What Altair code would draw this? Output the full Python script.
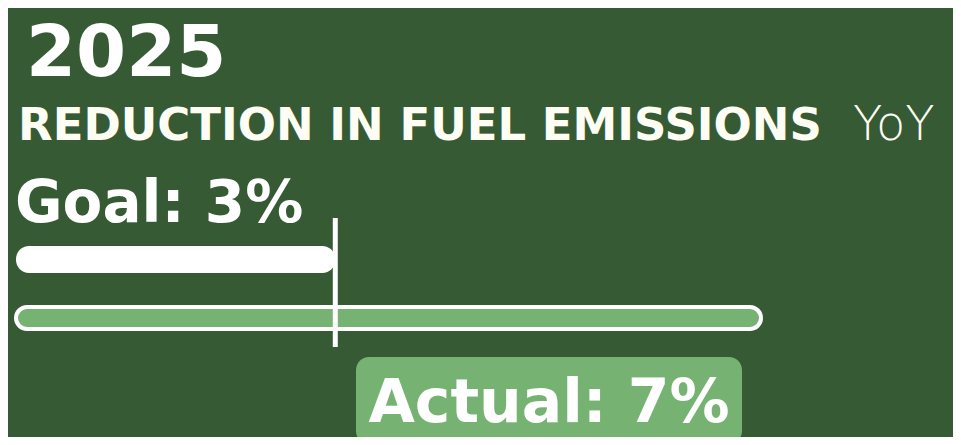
import altair as alt
import pandas as pd

# ---- data ----
year = ["2025"]
metric = ["REDUCTION IN FUEL EMISSIONS"]
period = ["YoY"]
goal_pct = [3]
actual_pct = [7]
axis_max = [7]

BG = "#365a34"
GREEN = "#76b372"
WHITE = "#ffffff"
FONT = "DejaVu Sans"

goal_df = pd.DataFrame({"start": [0], "value": goal_pct})
actual_df = pd.DataFrame({"start": [0], "value": actual_pct})

xscale = alt.Scale(domain=[0, axis_max[0]], range=[8, 753])
X = lambda f: alt.X(f, type="quantitative", scale=xscale, axis=None)

goal_bar = alt.Chart(goal_df).mark_bar(color=WHITE, cornerRadius=13).encode(
    x=X("start"), x2="value", y=alt.value(238), y2=alt.value(265)
)

actual_bar = alt.Chart(actual_df).mark_bar(
    color=GREEN, stroke=WHITE, strokeWidth=4, cornerRadius=11
).encode(x=X("start"), x2="value", y=alt.value(299), y2=alt.value(321))

goal_rule = alt.Chart(goal_df).mark_rule(color=WHITE, strokeWidth=5).encode(
    x=X("value"), y=alt.value(210), y2=alt.value(339)
)

label_box = alt.Chart(actual_df).mark_rect(color=GREEN, cornerRadius=13).encode(
    x=alt.value(348), x2=alt.value(734), y=alt.value(349), y2=alt.value(436)
)

def txt(s, x, y, size, weight="bold", align="left", color=WHITE):
    return alt.Chart(pd.DataFrame({"t": [s]})).mark_text(
        text=s, font=FONT, fontSize=size, fontWeight=weight, color=color,
        align=align, baseline="alphabetic"
    ).encode(x=alt.value(x), y=alt.value(y))

t_year = txt(year[0], 18, 68, 72)
t_metric = txt(metric[0], 10, 132, 45, color="#fdfdf4")
t_period = txt(period[0], 845, 132, 48, weight=200, color="#fdfdf4")
t_goal = txt(f"Goal: {goal_pct[0]}%", 7, 214, 58)
t_actual = txt(f"Actual: {actual_pct[0]}%", 541, 414, 60, align="center")

chart = alt.layer(
    goal_bar, actual_bar, goal_rule, label_box,
    t_year, t_metric, t_period, t_goal, t_actual
).properties(
    width=945, height=429, background=BG, padding=0,
    autosize=alt.AutoSizeParams(type="none")
).configure_view(stroke=None)

chart.save("out.html", embed_options={"renderer": "svg", "actions": False})
